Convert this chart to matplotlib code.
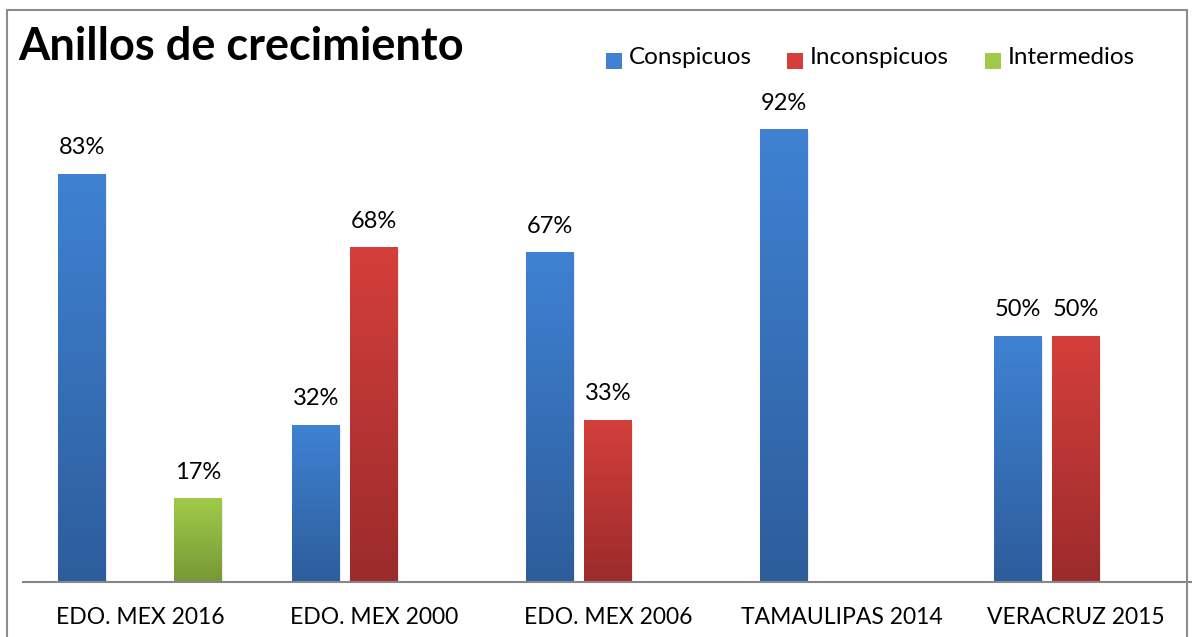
import numpy as np
import matplotlib.pyplot as plt
from matplotlib.patches import Rectangle
from matplotlib.colors import LinearSegmentedColormap

plt.rcParams['font.family'] = ['Lato', 'DejaVu Sans']

categories = ['EDO. MEX 2016', 'EDO. MEX 2000', 'EDO. MEX 2006', 'TAMAULIPAS 2014', 'VERACRUZ 2015']
conspicuos = [83, 32, 67, 92, 50]
inconspicuos = [np.nan, 68, 33, np.nan, 50]
intermedios = [17, np.nan, np.nan, np.nan, np.nan]
series_names = ['Conspicuos', 'Inconspicuos', 'Intermedios']

# (top color, bottom color) for the gradient fill
grad_colors = [('#3f82d3', '#2d5d9b'), ('#d43f3b', '#9b2b2b'), ('#a0cb4a', '#769835')]

fig = plt.figure(figsize=(11.92, 6.37), dpi=100)
ax = fig.add_axes([23 / 1192, 55 / 637, 1170 / 1192, 492 / 637])

# gray outer border
fig.patches.append(Rectangle((7 / 1192, -0.05), 1180 / 1192, 1.05 - 10 / 637,
                             transform=fig.transFigure, fill=False,
                             edgecolor='#8c8c8c', linewidth=1.5))

x = np.arange(len(categories))
width = 0.205
step = 0.248
offsets = [-step, 0, step]

for i, vals in enumerate([conspicuos, inconspicuos, intermedios]):
    top_c, bot_c = grad_colors[i]
    cmap = LinearSegmentedColormap.from_list('g%d' % i, [bot_c, top_c])
    grad = np.linspace(0, 1, 256).reshape(-1, 1)
    bars = ax.bar(x + offsets[i], vals, width, color=top_c, linewidth=0)
    for b, v in zip(bars, vals):
        if np.isnan(v):
            continue
        bx, by = b.get_x(), b.get_y()
        bw, bh = b.get_width(), b.get_height()
        # soft shadow
        ax.add_patch(Rectangle((bx + 0.006, by), bw, bh - 0.6, facecolor='#000000',
                               alpha=0.08, linewidth=0, zorder=1))
        im = ax.imshow(grad, cmap=cmap, origin='lower', aspect='auto',
                       extent=[bx, bx + bw, by, by + bh], zorder=2)
        im.set_clip_path(b)
        b.set_zorder(2)
        ax.text(bx + bw / 2, by + bh + 3.2, '%d%%' % v, ha='center', va='bottom',
                fontsize=17, color='#000000')

ax.set_xlim(-0.5, len(categories) - 0.5)
ax.set_ylim(0, 100)
ax.set_xticks(x)
ax.set_xticklabels(categories, fontsize=16.5)
ax.tick_params(axis='x', length=0, pad=18)
ax.set_yticks([])
for s in ['top', 'right', 'left']:
    ax.spines[s].set_visible(False)
ax.spines['bottom'].set_color('#868686')
ax.spines['bottom'].set_linewidth(1.5)

fig.text(18 / 1192, 1 - 47 / 637, 'Anillos de crecimiento', fontsize=32.5,
         fontweight='bold', ha='left', va='center')

# legend
leg_sq = [606, 787, 985]
leg_tx = [629, 810, 1008]
for name, (top_c, bot_c), sx, tx in zip(series_names, grad_colors, leg_sq, leg_tx):
    fig.patches.append(Rectangle((sx / 1192, 1 - 69 / 637), 16 / 1192, 16 / 637,
                                 transform=fig.transFigure, facecolor=top_c,
                                 edgecolor='none'))
    fig.text(tx / 1192, 1 - 58 / 637, name, fontsize=17.5,
             ha='left', va='center')

fig.savefig('out.png', dpi=100)
